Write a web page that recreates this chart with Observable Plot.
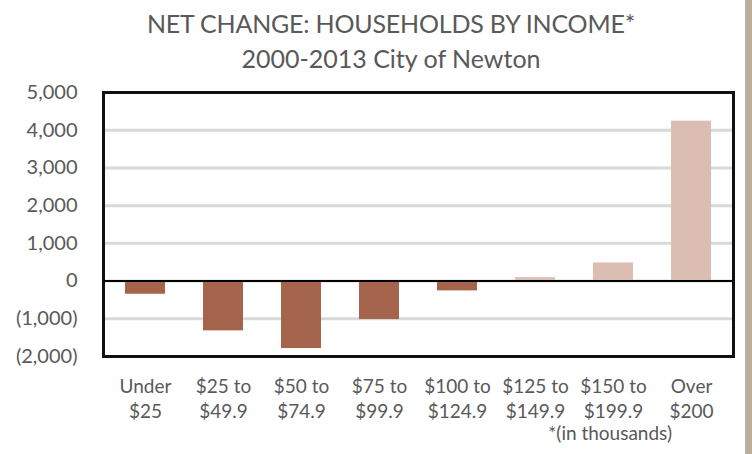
<!DOCTYPE html>
<html>
<head>
<meta charset="utf-8">
<script src="https://cdn.jsdelivr.net/npm/d3@7"></script>
<script src="https://cdn.jsdelivr.net/npm/@observablehq/plot@0.6"></script>
<style>
  html, body { margin: 0; padding: 0; background: #fff; }
  #wrap { position: relative; width: 752px; height: 454px; overflow: hidden; background: #fff; font-family: Lato, "Open Sans", sans-serif; color: #595959; }
  #head { height: 80px; text-align: center; }
  #title { position: absolute; left: 0; width: 782px; top: 8px; font-size: 25px; letter-spacing: -0.2px; }
  #subtitle { position: absolute; left: 0; width: 782px; top: 43px; font-size: 25px; }
  #note { position: absolute; right: 80px; top: 421px; font-size: 19px; }
  #stripe { position: absolute; left: 745px; top: 0; width: 7px; height: 454px; background: #bdad9b; }
  #chart svg { display: block; }
</style>
</head>
<body>
<div id="wrap">
  <div id="head">
    <div id="title">NET CHANGE: HOUSEHOLDS BY INCOME*</div>
    <div id="subtitle">2000-2013 City of Newton</div>
  </div>
  <div id="chart"></div>
  <div id="note">*(in thousands)</div>
  <div id="stripe"></div>
</div>
<script>
const categories = ["Under\n$25", "$25 to\n$49.9", "$50 to\n$74.9", "$75 to\n$99.9", "$100 to\n$124.9", "$125 to\n$149.9", "$150 to\n$199.9", "Over\n$200"];
const netChange = [-350, -1320, -1790, -1020, -260, 90, 480, 4240];
const yTicks = [-2000, -1000, 0, 1000, 2000, 3000, 4000, 5000];

const data = categories.map((c, i) => ({category: c, value: netChange[i]}));
const fmt = d3.format(",");
const tickFmt = v => v < 0 ? `(${fmt(-v)})` : fmt(v);

const chart = Plot.plot({
  width: 752,
  height: 374,
  marginTop: 12,
  marginBottom: 98,
  marginLeft: 103,
  marginRight: 19,
  style: { fontFamily: "Lato, 'Open Sans', sans-serif", fontSize: "20px", color: "#595959", background: "transparent" },
  x: { domain: categories, paddingInner: 0.49, paddingOuter: 0.25, label: null },
  y: { domain: [-2000, 5000], label: null },
  marks: [
    Plot.ruleY(yTicks, { stroke: "#d9d9d9", strokeWidth: 3 }),
    Plot.barY(data, { x: "category", y: "value", fill: d => d.value < 0 ? "#a5644c" : "#dbbdb1" }),
    Plot.ruleY([0], { stroke: "#000", strokeWidth: 2 }),
    Plot.frame({ stroke: "#111", strokeWidth: 3 }),
    Plot.axisY({ ticks: yTicks, tickFormat: tickFmt, tickSize: 0, tickPadding: 26, fontSize: 20, fill: "#595959" }),
    Plot.axisX({ tickSize: 0, tickPadding: 18, fontSize: 19, fill: "#595959", lineHeight: 1.35 })
  ]
});
document.getElementById("chart").appendChild(chart);
</script>
</body>
</html>
